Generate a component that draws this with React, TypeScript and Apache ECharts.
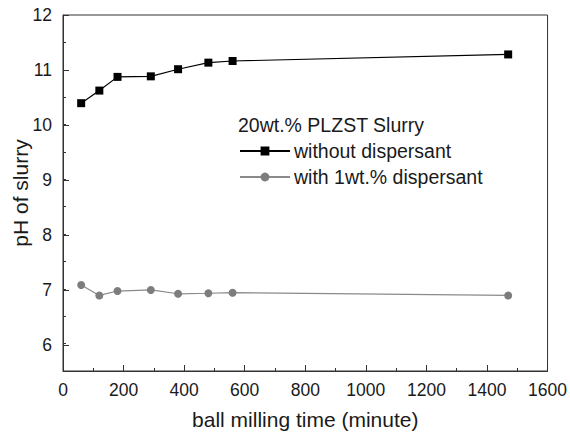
import React, { useEffect, useRef } from "react";
import * as echarts from "echarts";

// Ball milling time (minutes)
const millingTime = [60, 120, 180, 290, 380, 480, 560, 1470];
// pH of the 20wt.% PLZST slurry
const phWithout = [10.39, 10.62, 10.87, 10.88, 11.01, 11.13, 11.16, 11.28];
const phWith = [7.07, 6.88, 6.96, 6.98, 6.91, 6.92, 6.93, 6.88];

const xTicks = { min: 0, max: 1600, interval: 200 };
const yRange = { min: 5.5, max: 12 };
const yLabelStart = 6;

const W = 570;
const H = 435;
const FONT = "'Liberation Sans', Arial, sans-serif";

export default function App() {
  const ref = useRef<HTMLDivElement>(null);

  useEffect(() => {
    if (!ref.current) return;
    const chart = echarts.init(ref.current, undefined, { renderer: "svg" });

    const gLeft = 63;
    const gTop = 15;
    const gRight = 19;
    const gBottom = 62;
    const plotH = H - gTop - gBottom;
    // second grid only carries the integer labels / long ticks, starting at 6
    const labelGridBottom =
      gBottom + ((yLabelStart - yRange.min) / (yRange.max - yRange.min)) * plotH;

    const pairs = (ys: number[]) => millingTime.map((x, i) => [x, ys[i]]);
    const axisColor = "#333";
    const textColor = "#1a1a1a";

    chart.setOption({
      animation: false,
      backgroundColor: "#fff",
      textStyle: { fontFamily: FONT },
      title: {
        text: "20wt.% PLZST Slurry",
        left: 238,
        top: 115,
        padding: 0,
        textStyle: { fontFamily: FONT, fontSize: 19.5, fontWeight: "normal", color: textColor },
      },
      legend: {
        orient: "vertical",
        left: 239,
        top: 141,
        itemWidth: 50,
        itemHeight: 11,
        itemGap: 6,
        padding: 0,
        textStyle: {
          fontFamily: FONT,
          fontSize: 19.5,
          lineHeight: 20,
          color: textColor,
          padding: [0, 0, 0, -1],
        },
        data: ["without dispersant", "with 1wt.% dispersant"],
      },
      grid: [
        {
          left: gLeft,
          top: gTop,
          right: gRight,
          bottom: gBottom,
          show: true,
          borderColor: axisColor,
          borderWidth: 1,
          backgroundColor: "transparent",
        },
        { left: gLeft, top: gTop, right: gRight, bottom: labelGridBottom, show: false },
      ],
      xAxis: [
        {
          type: "value",
          gridIndex: 0,
          min: xTicks.min,
          max: xTicks.max,
          interval: xTicks.interval,
          axisLine: { show: true, lineStyle: { color: axisColor, width: 1 } },
          axisTick: { show: true, inside: true, length: 6, lineStyle: { color: axisColor } },
          minorTick: { show: true, splitNumber: 2, length: 3, lineStyle: { color: axisColor } },
          splitLine: { show: false },
          axisLabel: {
            fontSize: 17.5,
            color: textColor,
            margin: 10,
            fontFamily: FONT,
            formatter: (v: number) => String(v),
          },
          name: "ball milling time (minute)",
          nameLocation: "middle",
          nameGap: 38,
          nameTextStyle: { fontSize: 21, color: textColor, fontFamily: FONT },
        },
        { type: "value", gridIndex: 1, min: xTicks.min, max: xTicks.max, show: false },
      ],
      yAxis: [
        {
          type: "value",
          gridIndex: 0,
          min: yRange.min,
          max: yRange.max,
          interval: 0.5,
          axisLine: { show: true, lineStyle: { color: axisColor, width: 1 } },
          axisTick: { show: true, inside: true, length: 3, lineStyle: { color: axisColor } },
          splitLine: { show: false },
          axisLabel: { show: false },
          name: "pH of slurry",
          nameLocation: "middle",
          nameGap: 32,
          nameTextStyle: { fontSize: 21, color: textColor, fontFamily: FONT },
        },
        {
          type: "value",
          gridIndex: 1,
          min: yLabelStart,
          max: yRange.max,
          interval: 1,
          axisLine: { show: false },
          axisTick: { show: true, inside: true, length: 6, lineStyle: { color: axisColor } },
          splitLine: { show: false },
          axisLabel: { fontSize: 17.5, color: textColor, margin: 11, fontFamily: FONT },
        },
      ],
      series: [
        {
          name: "without dispersant",
          type: "line",
          xAxisIndex: 0,
          yAxisIndex: 0,
          data: pairs(phWithout),
          symbol: "rect",
          symbolSize: 8,
          lineStyle: { color: "#000", width: 1.2 },
          itemStyle: { color: "#000" },
        },
        {
          name: "with 1wt.% dispersant",
          type: "line",
          xAxisIndex: 0,
          yAxisIndex: 0,
          data: pairs(phWith),
          symbol: "circle",
          symbolSize: 8,
          lineStyle: { color: "#8a8a8a", width: 1.2 },
          itemStyle: { color: "#7d7d7d" },
        },
      ],
    });

    return () => chart.dispose();
  }, []);

  return (
    <div
      ref={ref}
      style={{ position: "fixed", left: 0, top: 0, width: W, height: H }}
    />
  );
}
